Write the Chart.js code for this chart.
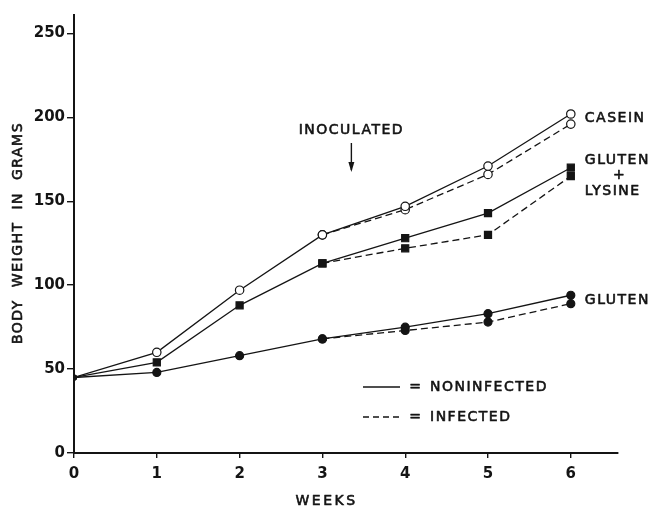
<!DOCTYPE html>
<html>
<head>
<meta charset="utf-8">
<script src="https://cdn.jsdelivr.net/npm/chart.js@4"></script>
<style>
  html, body { margin: 0; padding: 0; background: #fff; }
  canvas { display: block; }
</style>
</head>
<body>
<canvas id="c" width="654" height="508"></canvas>
<script>
// ---- data ----
const weeks = [0, 1, 2, 3, 4, 5, 6];
const yTicks = [0, 50, 100, 150, 200, 250];
const caseinNon = [45, 60, 97, 130, 147, 171, 202];
const caseinInf = [null, null, null, 130, 145, 166, 196];
const glutenLysNon = [45, 54, 88, 113, 128, 143, 170];
const glutenLysInf = [null, null, null, 113, 122, 130, 165];
const glutenNon = [45, 48, 58, 68, 75, 83, 94];
const glutenInf = [null, null, null, 68, 73, 78, 89];
const seriesLabels = ['CASEIN', 'GLUTEN', '+', 'LYSINE', 'GLUTEN'];
const legendLabels = ['NONINFECTED', 'INFECTED'];
const xTitle = 'WEEKS';
const yTitle = 'BODY  WEIGHT  IN  GRAMS';
const inoculatedLabel = 'INOCULATED';
const inoculatedWeek = 3.35;

const INK = '#141414';
const FONT = '"DejaVu Sans", sans-serif';

function pts(arr) {
  return weeks.map((w, i) => ({ x: w, y: arr[i] })).filter(p => p.y !== null);
}
function radii(arr, r) {
  return weeks.filter((w, i) => arr[i] !== null).map(w => (w === 0 ? 2.5 : r));
}

function ds(arr, style, r, fill, dashed) {
  return {
    data: pts(arr),
    borderColor: INK,
    borderWidth: 1.3,
    borderDash: dashed ? [7, 4] : [],
    pointStyle: style,
    pointRadius: radii(arr, r),
    pointBorderWidth: 1.2,
    pointBorderColor: INK,
    pointBackgroundColor: weeks.filter((w, i) => arr[i] !== null).map(w => (w === 0 || fill) ? INK : '#fff'),
    tension: 0,
    fill: false
  };
}

const bgPlugin = {
  id: 'bg',
  beforeDraw(chart) {
    const ctx = chart.ctx;
    ctx.save();
    ctx.fillStyle = '#fff';
    ctx.fillRect(0, 0, chart.width, chart.height);
    ctx.restore();
  }
};

function spacedText(ctx, text, x, y, spacing, align) {
  ctx.save();
  ctx.letterSpacing = spacing + 'px';
  ctx.textAlign = align || 'left';
  ctx.textBaseline = 'middle';
  ctx.lineWidth = 0.6;
  ctx.lineJoin = 'round';
  ctx.fillText(text, x, y);
  ctx.strokeText(text, x, y);
  ctx.restore();
}

const annotPlugin = {
  id: 'annot',
  afterDraw(chart) {
    const ctx = chart.ctx;
    const xs = chart.scales.x;
    ctx.save();
    ctx.fillStyle = INK;
    ctx.strokeStyle = INK;
    ctx.font = '14px ' + FONT;

    const x6 = xs.getPixelForValue(6) + 14;
    spacedText(ctx, seriesLabels[0], x6, 118, 1.5);
    spacedText(ctx, seriesLabels[1], x6, 160, 1.5);
    spacedText(ctx, seriesLabels[2], x6 + 34, 175, 0, 'center');
    spacedText(ctx, seriesLabels[3], x6, 191, 1.5);
    spacedText(ctx, seriesLabels[4], x6, 300, 1.5);

    // inoculated note
    const xi = xs.getPixelForValue(inoculatedWeek);
    spacedText(ctx, inoculatedLabel, xi, 130, 1.5, 'center');
    ctx.lineWidth = 1.4;
    ctx.beginPath();
    ctx.moveTo(xi, 143);
    ctx.lineTo(xi, 170);
    ctx.stroke();
    ctx.beginPath();
    ctx.moveTo(xi - 3, 162);
    ctx.lineTo(xi, 172);
    ctx.lineTo(xi + 3, 162);
    ctx.closePath();
    ctx.fill();

    // legend
    ctx.lineWidth = 1.3;
    ctx.beginPath();
    ctx.moveTo(363, 387);
    ctx.lineTo(400, 387);
    ctx.stroke();
    ctx.setLineDash([6, 4]);
    ctx.beginPath();
    ctx.moveTo(363, 417);
    ctx.lineTo(400, 417);
    ctx.stroke();
    ctx.setLineDash([]);
    spacedText(ctx, '=', 415, 387, 0, 'center');
    spacedText(ctx, '=', 415, 417, 0, 'center');
    spacedText(ctx, legendLabels[0], 430, 387, 1.5);
    spacedText(ctx, legendLabels[1], 430, 417, 1.5);

    // axis titles
    spacedText(ctx, xTitle, xs.getPixelForValue(3.05), 501, 2.5, 'center');
    ctx.save();
    ctx.translate(18, 233);
    ctx.rotate(-Math.PI / 2);
    spacedText(ctx, yTitle, 0, 0, 1.5, 'center');
    ctx.restore();
    ctx.restore();
  }
};

new Chart(document.getElementById('c'), {
  type: 'line',
  data: {
    datasets: [
      ds(caseinNon, 'circle', 4.2, false, false),
      ds(caseinInf, 'circle', 4.2, false, true),
      ds(glutenLysNon, 'rect', 5, true, false),
      ds(glutenLysInf, 'rect', 5, true, true),
      ds(glutenNon, 'circle', 4, true, false),
      ds(glutenInf, 'circle', 4, true, true)
    ]
  },
  options: {
    responsive: false,
    animation: false,
    events: [],
    layout: { padding: { top: 15, right: 36, left: 0, bottom: 0 } },
    plugins: { legend: { display: false }, tooltip: { enabled: false } },
    scales: {
      x: {
        type: 'linear',
        min: 0,
        max: 6.57,
        afterBuildTicks: s => { s.ticks = weeks.map(v => ({ value: v })); },
        afterFit: s => { s.height = 55; },
        grid: { drawOnChartArea: false, drawTicks: true, tickLength: 5, color: INK, lineWidth: 1.4 },
        border: { display: true, color: INK, width: 2 },
        ticks: { color: INK, font: { family: FONT, size: 15, weight: 'bold' }, padding: 7, maxRotation: 0 }
      },
      y: {
        type: 'linear',
        min: 0,
        max: 261,
        afterBuildTicks: s => { s.ticks = yTicks.map(v => ({ value: v })); },
        afterFit: s => { s.width = 74; },
        grid: { drawOnChartArea: false, drawTicks: true, tickLength: 7, color: INK, lineWidth: 1.4 },
        border: { display: true, color: INK, width: 2 },
        ticks: { color: INK, font: { family: FONT, size: 15, weight: 'bold' }, padding: 2 }
      }
    }
  },
  plugins: [bgPlugin, annotPlugin]
});
</script>
</body>
</html>
